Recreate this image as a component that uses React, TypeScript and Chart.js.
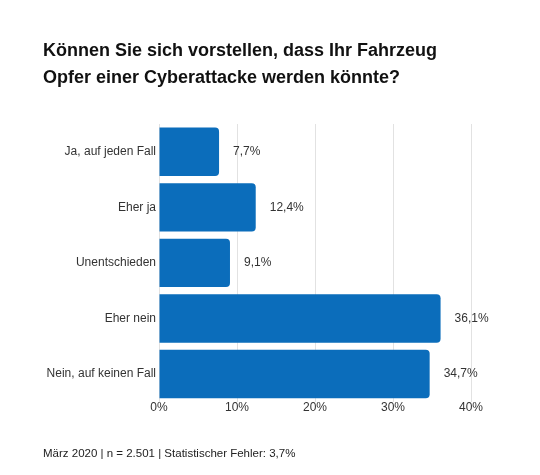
import { useEffect, useRef } from "react";
import { Chart, registerables, Plugin } from "chart.js";

Chart.register(...registerables);

const categories = [
  "Ja, auf jeden Fall",
  "Eher ja",
  "Unentschieden",
  "Eher nein",
  "Nein, auf keinen Fall",
];
const shares = [7.7, 12.4, 9.1, 36.1, 34.7];
const xTicks = [0, 10, 20, 30, 40];

const titleLines = [
  "Können Sie sich vorstellen, dass Ihr Fahrzeug",
  "Opfer einer Cyberattacke werden könnte?",
];
const footerText = "März 2020 | n = 2.501 | Statistischer Fehler: 3,7%";

const FONT = "'Liberation Sans', Arial, sans-serif";
const BLUE = "#0b6dbb";

// draws the "7,7%" style value next to each bar end
const valueLabels: Plugin<"bar"> = {
  id: "valueLabels",
  afterDatasetsDraw(chart) {
    const { ctx } = chart;
    const meta = chart.getDatasetMeta(0);
    ctx.save();
    ctx.font = `12px ${FONT}`;
    ctx.fillStyle = "#333";
    ctx.textAlign = "left";
    ctx.textBaseline = "middle";
    meta.data.forEach((bar, i) => {
      const v = shares[i];
      ctx.fillText(v.toFixed(1).replace(".", ",") + "%", bar.x + 14, bar.y);
    });
    ctx.restore();
  },
};

export default function App() {
  const canvasRef = useRef<HTMLCanvasElement | null>(null);

  useEffect(() => {
    if (!canvasRef.current) return;
    const chart = new Chart(canvasRef.current, {
      type: "bar",
      data: {
        labels: categories,
        datasets: [
          {
            data: shares,
            backgroundColor: BLUE,
            borderRadius: { topLeft: 0, bottomLeft: 0, topRight: 4, bottomRight: 4 },
            borderSkipped: false,
            categoryPercentage: 1,
            barPercentage: 0.87,
          },
        ],
      },
      options: {
        indexAxis: "y",
        animation: false,
        responsive: true,
        maintainAspectRatio: false,
        layout: { padding: { left: 43, right: 69, top: 38, bottom: 14 } },
        plugins: {
          legend: { display: false },
          tooltip: { enabled: false },
          title: {
            display: true,
            text: titleLines,
            align: "start",
            color: "#111",
            font: { family: FONT, size: 18, weight: "bold", lineHeight: 1.5 },
            padding: { top: 0, bottom: 32 },
          },
          subtitle: {
            display: true,
            position: "bottom",
            text: footerText,
            align: "start",
            color: "#222",
            font: { family: FONT, size: 11.5, lineHeight: 1.2 },
            padding: { top: 33, bottom: 0 },
          },
        },
        scales: {
          x: {
            min: 0,
            max: 40,
            afterBuildTicks: (axis) => {
              axis.ticks = xTicks.map((value) => ({ value }));
            },
            border: { display: false },
            grid: { color: "#e2e2e2", drawTicks: false },
            ticks: {
              padding: -1,
              color: "#333",
              font: { family: FONT, size: 12 },
              callback: (v) => `${v}%`,
            },
          },
          y: {
            afterFit: (axis) => {
              axis.width = 116;
            },
            border: { display: false },
            grid: { display: false, drawTicks: false },
            ticks: {
              padding: 3,
              color: "#333",
              font: { family: FONT, size: 12 },
            },
          },
        },
      },
      plugins: [valueLabels],
    });
    return () => chart.destroy();
  }, []);

  return (
    <div
      style={{
        position: "fixed",
        left: 0,
        top: 0,
        width: 540,
        height: 475,
        background: "#fff",
      }}
    >
      <canvas ref={canvasRef} />
    </div>
  );
}
